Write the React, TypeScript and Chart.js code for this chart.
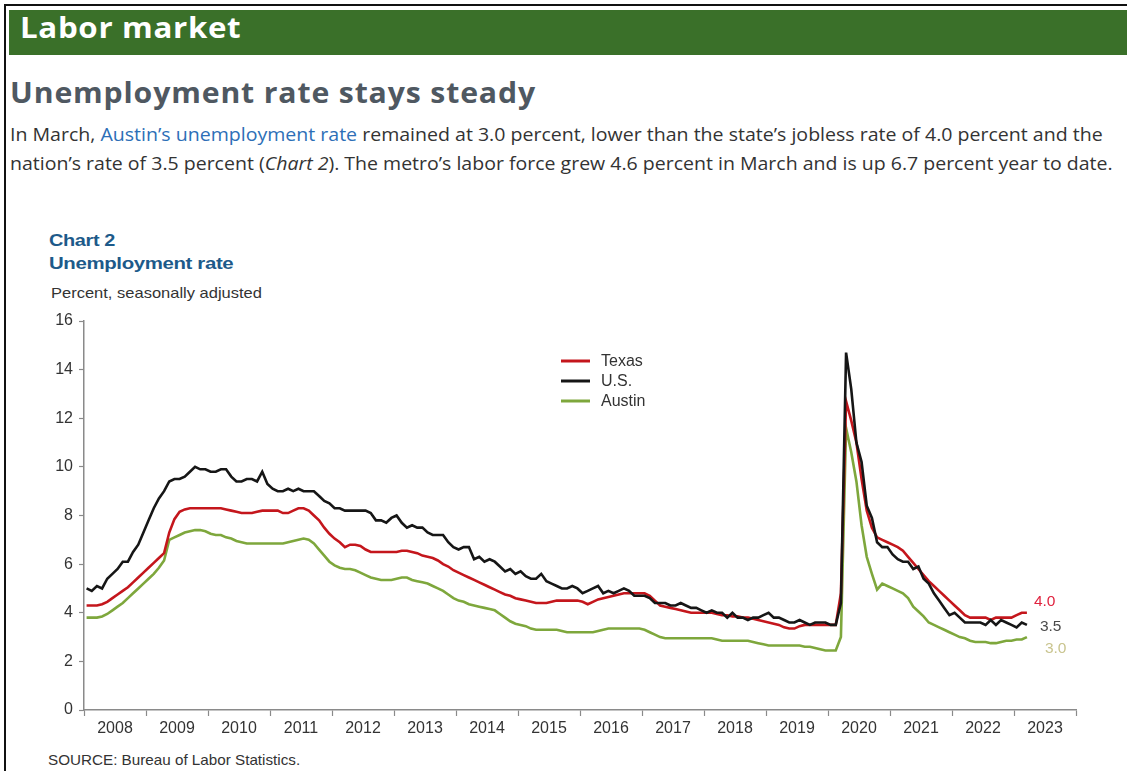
import React, { useEffect, useRef } from "react";
import { Chart, registerables } from "chart.js";

Chart.register(...registerables);

// ---- Data (monthly, Jan 2008 – Mar 2023) ----
const startYear = 2008;
const yearLabels = ["2008", "2009", "2010", "2011", "2012", "2013", "2014", "2015", "2016", "2017", "2018", "2019", "2020", "2021", "2022", "2023"];
const yTicks = [0, 2, 4, 6, 8, 10, 12, 14, 16];

const seriesNames = ["Texas", "U.S.", "Austin"];

const texasRate = [
  4.3, 4.3, 4.3, 4.35, 4.45, 4.6, 4.75, 4.9, 5.05, 5.25, 5.45, 5.65,
  5.85, 6.05, 6.25, 6.45, 7.3, 7.85, 8.15, 8.25, 8.3, 8.3, 8.3, 8.3,
  8.3, 8.3, 8.3, 8.25, 8.2, 8.15, 8.1, 8.1, 8.1, 8.15, 8.2, 8.2,
  8.2, 8.2, 8.1, 8.1, 8.2, 8.3, 8.3, 8.2, 8.0, 7.8, 7.5, 7.25,
  7.05, 6.9, 6.7, 6.8, 6.8, 6.75, 6.6, 6.5, 6.5, 6.5, 6.5, 6.5,
  6.5, 6.55, 6.55, 6.5, 6.45, 6.35, 6.3, 6.25, 6.15, 6.0, 5.9, 5.75,
  5.65, 5.55, 5.45, 5.35, 5.25, 5.15, 5.05, 4.95, 4.85, 4.75, 4.7, 4.6,
  4.55, 4.5, 4.45, 4.4, 4.4, 4.4, 4.45, 4.5, 4.5, 4.5, 4.5, 4.5,
  4.45, 4.35, 4.45, 4.55, 4.6, 4.65, 4.7, 4.75, 4.8, 4.8, 4.8, 4.8,
  4.8, 4.7, 4.5, 4.3, 4.25, 4.2, 4.15, 4.1, 4.05, 4.0, 4.0, 4.0,
  4.0, 4.0, 3.95, 3.9, 3.9, 3.85, 3.85, 3.8, 3.8, 3.75, 3.7, 3.65,
  3.6, 3.55, 3.5, 3.4, 3.35, 3.35, 3.45, 3.5, 3.5, 3.5, 3.5, 3.5,
  3.5, 3.5, 4.8, 12.7, 11.9, 11.0, 9.5, 8.2, 7.5, 7.1, 7.0, 6.9,
  6.8, 6.7, 6.55, 6.3, 6.05, 5.8, 5.55, 5.3, 5.1, 4.9, 4.7, 4.5,
  4.3, 4.1, 3.9, 3.8, 3.8, 3.8, 3.8, 3.7, 3.8, 3.8, 3.8, 3.8,
  3.9, 4.0, 4.0,
];

const usRate = [
  5.0, 4.9, 5.1, 5.0, 5.4, 5.6, 5.8, 6.1, 6.1, 6.5, 6.8, 7.3,
  7.8, 8.3, 8.7, 9.0, 9.4, 9.5, 9.5, 9.6, 9.8, 10.0, 9.9, 9.9,
  9.8, 9.8, 9.9, 9.9, 9.6, 9.4, 9.4, 9.5, 9.5, 9.4, 9.8, 9.3,
  9.1, 9.0, 9.0, 9.1, 9.0, 9.1, 9.0, 9.0, 9.0, 8.8, 8.6, 8.5,
  8.3, 8.3, 8.2, 8.2, 8.2, 8.2, 8.2, 8.1, 7.8, 7.8, 7.7, 7.9,
  8.0, 7.7, 7.5, 7.6, 7.5, 7.5, 7.3, 7.2, 7.2, 7.2, 6.9, 6.7,
  6.6, 6.7, 6.7, 6.2, 6.3, 6.1, 6.2, 6.1, 5.9, 5.7, 5.8, 5.6,
  5.7, 5.5, 5.4, 5.4, 5.6, 5.3, 5.2, 5.1, 5.0, 5.0, 5.1, 5.0,
  4.8, 4.9, 5.0, 5.1, 4.8, 4.9, 4.8, 4.9, 5.0, 4.9, 4.7, 4.7,
  4.7, 4.6, 4.4, 4.4, 4.4, 4.3, 4.3, 4.4, 4.3, 4.2, 4.2, 4.1,
  4.0, 4.1, 4.0, 4.0, 3.8, 4.0, 3.8, 3.8, 3.7, 3.8, 3.8, 3.9,
  4.0, 3.8, 3.8, 3.7, 3.6, 3.6, 3.7, 3.6, 3.5, 3.6, 3.6, 3.6,
  3.5, 3.5, 4.4, 14.7, 13.2, 11.0, 10.2, 8.4, 7.9, 6.9, 6.7, 6.7,
  6.4, 6.2, 6.1, 6.1, 5.8, 5.9, 5.4, 5.2, 4.8, 4.5, 4.2, 3.9,
  4.0, 3.8, 3.6, 3.6, 3.6, 3.6, 3.5, 3.7, 3.5, 3.7, 3.6, 3.5,
  3.4, 3.6, 3.5,
];

const austinRate = [
  3.8, 3.8, 3.8, 3.85, 3.95, 4.1, 4.25, 4.4, 4.6, 4.8, 5.0, 5.2,
  5.4, 5.6, 5.85, 6.15, 7.0, 7.1, 7.2, 7.3, 7.35, 7.4, 7.4, 7.35,
  7.25, 7.2, 7.2, 7.1, 7.05, 6.95, 6.9, 6.85, 6.85, 6.85, 6.85, 6.85,
  6.85, 6.85, 6.85, 6.9, 6.95, 7.0, 7.05, 7.0, 6.85, 6.6, 6.35, 6.1,
  5.95, 5.85, 5.8, 5.8, 5.75, 5.65, 5.55, 5.45, 5.4, 5.35, 5.35, 5.35,
  5.4, 5.45, 5.45, 5.35, 5.3, 5.25, 5.2, 5.1, 5.0, 4.9, 4.75, 4.6,
  4.5, 4.45, 4.35, 4.3, 4.25, 4.2, 4.15, 4.1, 3.95, 3.8, 3.65, 3.55,
  3.5, 3.45, 3.35, 3.3, 3.3, 3.3, 3.3, 3.3, 3.25, 3.2, 3.2, 3.2,
  3.2, 3.2, 3.2, 3.25, 3.3, 3.35, 3.35, 3.35, 3.35, 3.35, 3.35, 3.35,
  3.3, 3.2, 3.1, 3.0, 2.95, 2.95, 2.95, 2.95, 2.95, 2.95, 2.95, 2.95,
  2.95, 2.95, 2.9, 2.85, 2.85, 2.85, 2.85, 2.85, 2.85, 2.8, 2.75, 2.7,
  2.65, 2.65, 2.65, 2.65, 2.65, 2.65, 2.65, 2.6, 2.6, 2.55, 2.5, 2.45,
  2.45, 2.45, 3.0, 11.6, 10.6, 9.4, 7.6, 6.3, 5.6, 4.95, 5.2, 5.1,
  5.0, 4.9, 4.8, 4.6, 4.25, 4.05, 3.85, 3.6, 3.5, 3.4, 3.3, 3.2,
  3.1, 3.0, 2.95, 2.85, 2.8, 2.8, 2.8, 2.75, 2.75, 2.8, 2.85, 2.85,
  2.9, 2.9, 3.0,
];

const lineColors = ["#c4161c", "#161616", "#7ea73c"];
const endLabelColors = ["#e0233f", "#4a4a4a", "#c9c48e"];

const toPoints = (values: number[]) =>
  values.map((v, i) => ({ x: startYear + (i + 0.5) / 12, y: v }));

const FONT = "'Liberation Sans', Arial, sans-serif";

const overlayPlugin = {
  id: "overlay",
  afterDatasetsDraw(chart: any) {
    const { ctx, chartArea } = chart;
    ctx.save();
    // legend
    const lx = chartArea.left + 477;
    const ly = chartArea.top + 40;
    chart.data.datasets.forEach((ds: any, i: number) => {
      const y = ly + i * 20;
      ctx.strokeStyle = ds.borderColor;
      ctx.lineWidth = 3;
      ctx.beginPath();
      ctx.moveTo(lx, y);
      ctx.lineTo(lx + 29, y);
      ctx.stroke();
      ctx.fillStyle = "#333";
      ctx.font = `16px ${FONT}`;
      ctx.textBaseline = "middle";
      ctx.textAlign = "left";
      ctx.fillText(ds.label, lx + 40, y + 1);
    });
    // end labels
    const offsets = [
      { dx: 7, dy: -11 },
      { dx: 13, dy: 2 },
      { dx: 18, dy: 12 },
    ];
    chart.data.datasets.forEach((ds: any, i: number) => {
      const meta = chart.getDatasetMeta(i);
      const last = meta.data[meta.data.length - 1];
      const val = ds.data[ds.data.length - 1].y;
      ctx.fillStyle = endLabelColors[i];
      ctx.font = `15.5px ${FONT}`;
      ctx.textAlign = "left";
      ctx.textBaseline = "middle";
      ctx.fillText(val.toFixed(1), last.x + offsets[i].dx, last.y + offsets[i].dy);
    });
    ctx.restore();
  },
};

function UnemploymentChart() {
  const ref = useRef<HTMLCanvasElement>(null);
  useEffect(() => {
    if (!ref.current) return;
    const seriesValues = [texasRate, usRate, austinRate];
    const chart = new Chart(ref.current, {
      type: "line",
      data: {
        datasets: seriesNames.map((name, i) => ({
          label: name,
          data: toPoints(seriesValues[i]),
          borderColor: lineColors[i],
          backgroundColor: lineColors[i],
          borderWidth: 2.6,
          pointRadius: 0,
          tension: 0,
          order: i === 1 ? 0 : i === 0 ? 1 : 2,
        })),
      },
      options: {
        animation: false,
        responsive: false,
        maintainAspectRatio: false,
        events: [],
        layout: { padding: { top: 21, right: 51, left: 0, bottom: 0 } },
        plugins: { legend: { display: false }, tooltip: { enabled: false } },
        scales: {
          x: {
            type: "linear",
            min: startYear,
            max: startYear + yearLabels.length,
            afterBuildTicks: (axis: any) => {
              const t: any[] = [];
              yearLabels.forEach((_, k) => {
                t.push({ value: startYear + k });
                t.push({ value: startYear + k + 0.5 });
              });
              t.push({ value: startYear + yearLabels.length });
              axis.ticks = t;
            },
            afterFit: (scale: any) => {
              scale.height = 35;
            },
            ticks: {
              autoSkip: false,
              maxRotation: 0,
              padding: 3,
              color: "#333",
              font: { family: FONT, size: 16 },
              callback: (value: any) => {
                const v = Number(value);
                if (Math.abs(v - Math.floor(v) - 0.5) < 1e-6) {
                  return yearLabels[Math.floor(v) - startYear];
                }
                return "";
              },
            },
            grid: {
              display: true,
              drawOnChartArea: false,
              drawTicks: true,
              tickLength: 6,
              tickWidth: 1.2,
              tickColor: (ctx: any) =>
                ctx.tick && Math.abs(ctx.tick.value % 1) < 1e-6 ? "#8a8a8a" : "rgba(0,0,0,0)",
            },
            border: { display: true, color: "#8a8a8a", width: 1.5 },
          },
          y: {
            type: "linear",
            min: 0,
            max: 16,
            afterBuildTicks: (axis: any) => {
              axis.ticks = yTicks.map((v) => ({ value: v }));
            },
            afterFit: (scale: any) => {
              scale.width = 84;
            },
            ticks: {
              padding: 6,
              color: "#333",
              font: { family: FONT, size: 16 },
              callback: (value: any) => String(value),
            },
            grid: {
              display: true,
              drawOnChartArea: false,
              drawTicks: true,
              tickLength: 5,
              tickWidth: 1.2,
              tickColor: "#8a8a8a",
            },
            border: { display: true, color: "#8a8a8a", width: 1.5 },
          },
        },
      },
      plugins: [overlayPlugin],
    });
    return () => chart.destroy();
  }, []);
  return (
    <canvas
      ref={ref}
      width={1127}
      height={445}
      style={{ position: "absolute", left: 0, top: 300, width: 1127, height: 445 }}
    />
  );
}

export default function App() {
  const abs = (o: any, sx = 1): any => ({
    position: "absolute",
    whiteSpace: "nowrap",
    transform: `scaleX(${sx})`,
    transformOrigin: "0 50%",
    ...o,
  });
  const para = { fontFamily: "'Open Sans', sans-serif", fontSize: 17.4, color: "#333" };
  const link = { color: "#2d6fb7" };
  return (
    <div
      style={{
        position: "fixed",
        left: 0,
        top: 0,
        width: 1127,
        height: 771,
        background: "#fff",
        overflow: "hidden",
      }}
    >
      <div style={abs({ left: 5, top: 4, width: 1122, height: 2, background: "#111" })} />
      <div style={abs({ left: 4, top: 4, width: 2, height: 767, background: "#111" })} />
      <div style={abs({ left: 9, top: 10, width: 1118, height: 45, background: "#3a7029" })} />
      <div
        style={abs(
          {
            left: 20,
            top: 6,
            lineHeight: "42px",
            fontFamily: "'Open Sans', sans-serif",
            fontWeight: 700,
            fontSize: 28,
            color: "#fff",
            letterSpacing: 0.6,
          },
          1.117
        )}
      >
        Labor market
      </div>
      <div
        style={abs(
          {
            left: 10,
            top: 72,
            lineHeight: "40px",
            fontFamily: "'Open Sans', sans-serif",
            fontWeight: 700,
            fontSize: 28,
            color: "#4f5861",
            letterSpacing: 0.8,
          },
          1.078
        )}
      >
        Unemployment rate stays steady
      </div>
      <div style={abs({ left: 10, top: 120, lineHeight: "29px", ...para }, 1.124)}>
        In March, <span style={link}>Austin’s unemployment rate</span> remained at 3.0 percent, lower than the state’s jobless rate of 4.0 percent and the
      </div>
      <div style={abs({ left: 10, top: 149, lineHeight: "29px", ...para }, 1.122)}>
        nation’s rate of 3.5 percent (<i>Chart 2</i>). The metro’s labor force grew 4.6 percent in March and is up 6.7 percent year to date.
      </div>
      <div
        style={abs(
          {
            left: 49,
            top: 230,
            lineHeight: "22px",
            fontFamily: FONT,
            fontWeight: 700,
            fontSize: 17,
            color: "#1d5a8a",
            letterSpacing: -0.3,
          },
          1.17
        )}
      >
        Chart 2
      </div>
      <div
        style={abs(
          {
            left: 49,
            top: 253,
            lineHeight: "22px",
            fontFamily: FONT,
            fontWeight: 700,
            fontSize: 17,
            color: "#1d5a8a",
            letterSpacing: -0.3,
          },
          1.2
        )}
      >
        Unemployment rate
      </div>
      <div
        style={abs({ left: 51, top: 283, lineHeight: "20px", fontFamily: FONT, fontSize: 15, color: "#333" }, 1.1)}
      >
        Percent, seasonally adjusted
      </div>
      <UnemploymentChart />
      <div
        style={abs({ left: 48, top: 750, lineHeight: "20px", fontFamily: FONT, fontSize: 14.5, color: "#333" }, 1.05)}
      >
        SOURCE: Bureau of Labor Statistics.
      </div>
    </div>
  );
}
